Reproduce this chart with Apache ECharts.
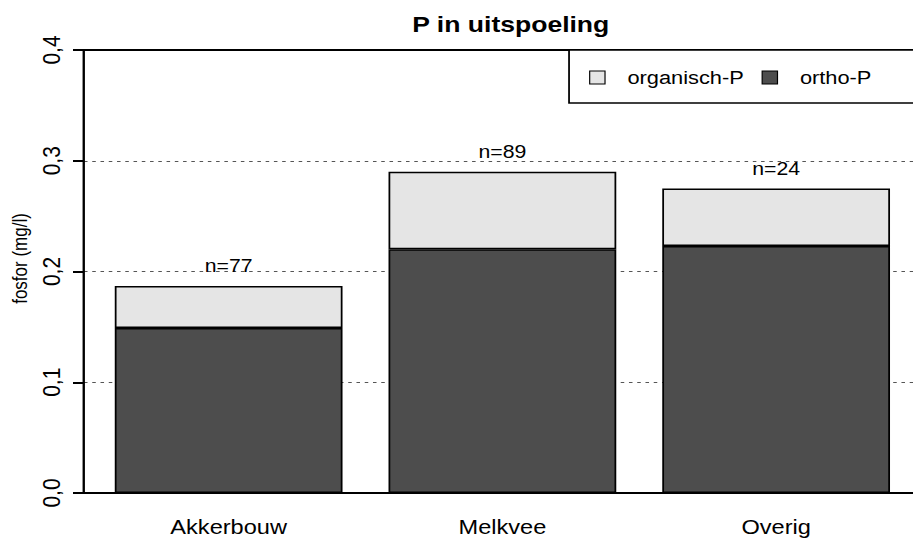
<!DOCTYPE html>
<html>
<head>
<meta charset="utf-8">
<script src="https://cdn.jsdelivr.net/npm/echarts@6/dist/echarts.min.js"></script>
<style>
  html, body { margin: 0; padding: 0; background: #fff; overflow: hidden; }
  /* the chart is laid out narrower and stretched horizontally to fill 913px */
  #chart { width: 774px; height: 542px; transform: scaleX(1.1796); transform-origin: 0 0; }
</style>
</head>
<body>
<div id="chart"></div>
<script>
// Phosphorus in leachate by land use, split into organic and ortho-P
const categories = ['Akkerbouw', 'Melkvee', 'Overig'];
const orthoP = [0.149, 0.220, 0.223];
const organischP = [0.038, 0.070, 0.052];
const sampleCounts = [77, 89, 24];
const yTicks = [0, 0.1, 0.2, 0.3, 0.4];

const FONT = '"Liberation Sans", Arial, sans-serif';
const fmtTick = v => v.toFixed(1).replace('.', ',');

const chart = echarts.init(document.getElementById('chart'), null, { renderer: 'svg' });

chart.setOption({
  backgroundColor: '#ffffff',
  animation: false,
  title: {
    text: 'P in uitspoeling',
    left: 428,
    top: 8,
    textAlign: 'center',
    textStyle: { fontFamily: FONT, fontSize: 22.5, fontWeight: 'bold', color: '#000' }
  },
  // frame around the legend, running off the right edge
  graphic: [{
    type: 'rect',
    z: 3,
    shape: { x: 482.4, y: 50, width: 340, height: 53 },
    style: { fill: '#fff', stroke: '#000', lineWidth: 1.5 }
  }],
  legend: {
    data: ['organisch-P', 'ortho-P'],
    left: 499.4,
    top: 65,
    orient: 'horizontal',
    icon: 'rect',
    itemWidth: 13,
    itemHeight: 13,
    itemGap: 15,
    padding: 0,
    selectedMode: false,
    textStyle: { fontFamily: FONT, fontSize: 18.5, lineHeight: 22, color: '#000', padding: [3, 0, 0, 14] },
    itemStyle: { borderColor: '#000', borderWidth: 1 },
    z: 10
  },
  grid: [
    // frame: y axis, grid lines and box lines
    { left: 71.2, right: 0, top: 50, bottom: 49, containLabel: false },
    // bars
    { left: 77.8, right: -7, top: 50, bottom: 49, containLabel: false }
  ],
  xAxis: [
    {
      gridIndex: 0, type: 'value', min: 0, max: 1, position: 'bottom',
      axisLine: { show: true, onZero: false, lineStyle: { color: '#000', width: 2 } },
      axisTick: { show: false }, axisLabel: { show: false }, splitLine: { show: false }
    },
    {
      gridIndex: 0, type: 'value', min: 0, max: 1, position: 'top',
      axisLine: { show: true, onZero: false, lineStyle: { color: '#000', width: 2 } },
      axisTick: { show: false }, axisLabel: { show: false }, splitLine: { show: false }
    },
    {
      gridIndex: 1, type: 'category', data: categories, position: 'bottom',
      axisLine: { show: false }, axisTick: { show: false },
      axisLabel: { fontFamily: FONT, fontSize: 20, color: '#000', margin: 24 }
    }
  ],
  yAxis: [
    {
      gridIndex: 0, type: 'value', min: yTicks[0], max: yTicks[yTicks.length - 1], interval: 0.1,
      name: 'fosfor (mg/l)',
      nameLocation: 'middle',
      nameGap: 45,
      nameRotate: 90,
      nameTextStyle: { fontFamily: FONT, fontSize: 17, color: '#000', padding: [0, 0, 0, 26] },
      axisLine: { show: true, lineStyle: { color: '#000', width: 2 } },
      axisTick: { show: true, length: 9.3, lineStyle: { color: '#000', width: 2 } },
      axisLabel: {
        rotate: 90, margin: 17, fontFamily: FONT, fontSize: 21, color: '#000',
        formatter: fmtTick
      },
      splitLine: { show: true, lineStyle: { color: '#555', width: 1, type: [3, 4] } }
    },
    {
      gridIndex: 1, type: 'value', min: 0, max: 0.4,
      axisLine: { show: false }, axisTick: { show: false }, axisLabel: { show: false },
      splitLine: { show: false }
    }
  ],
  series: [
    {
      name: 'ortho-P', type: 'bar', stack: 'P', xAxisIndex: 2, yAxisIndex: 1,
      data: orthoP, barWidth: '83.2%',
      itemStyle: { color: '#4d4d4d', borderColor: '#000', borderWidth: 1.5 }
    },
    {
      name: 'organisch-P', type: 'bar', stack: 'P', xAxisIndex: 2, yAxisIndex: 1,
      data: organischP, barWidth: '83.2%',
      itemStyle: { color: '#e5e5e5', borderColor: '#000', borderWidth: 1.5 },
      label: {
        show: true, position: 'top', distance: 11,
        fontFamily: FONT, fontSize: 18, color: '#000',
        formatter: p => 'n=' + sampleCounts[p.dataIndex]
      }
    }
  ]
});
</script>
</body>
</html>
